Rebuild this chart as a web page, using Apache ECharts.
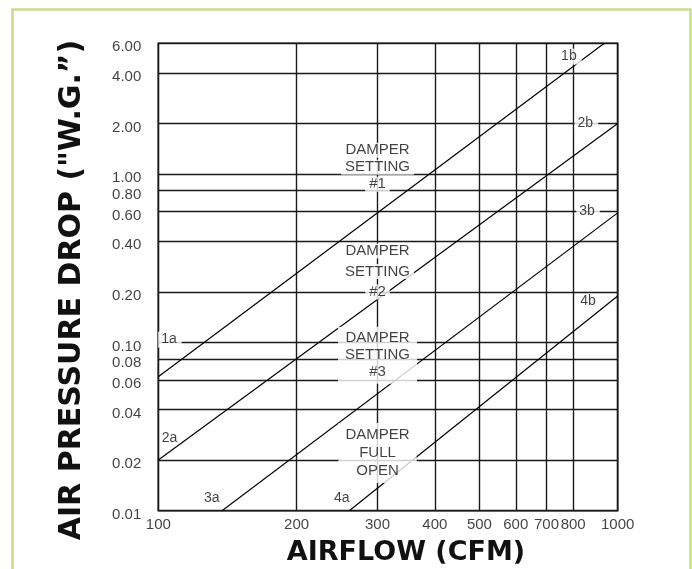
<!DOCTYPE html>
<html>
<head>
<meta charset="utf-8">
<script src="https://cdn.jsdelivr.net/npm/echarts@6/dist/echarts.min.js"></script>
<style>html,body{margin:0;padding:0;background:#fff}#c{width:692px;height:569px}</style>
</head>
<body>
<div id="c"></div>
<script>
// ---- data ----
const flowTicks = [100, 200, 300, 400, 500, 600, 700, 800, 1000];
const flowTickLabels = ['100', '200', '300', '400', '500', '600', '700', '800', '1000'];
const dropTicks = [0.01, 0.02, 0.04, 0.06, 0.08, 0.1, 0.2, 0.4, 0.6, 0.8, 1, 2, 4, 6];
const dropTickLabels = ['0.01', '0.02', '0.04', '0.06', '0.08', '0.10', '0.20', '0.40', '0.60', '0.80', '1.00', '2.00', '4.00', '6.00'];

const setting1Flow = [100, 935];
const setting1Drop = [0.0626, 6];
const setting2Flow = [100, 1000];
const setting2Drop = [0.02, 2.0];
const setting3Flow = [137.6, 1000];
const setting3Drop = [0.01, 0.589];
const fullOpenFlow = [260.4, 1000];
const fullOpenDrop = [0.01, 0.189];

const damperNotes = [['DAMPER', 'SETTING', '#1'], ['DAMPER', 'SETTING', '#2'], ['DAMPER', 'SETTING', '#3'], ['DAMPER', 'FULL', 'OPEN']];
const damperFlow = [300, 300, 300, 300];
const damperDrop = [1.1, 0.264, 0.084, 0.022];

const endNotes = ['1a', '2a', '3a', '4a', '1b', '2b', '3b', '4b'];
const endFlow = [106, 105.8, 130.7, 250.7, 787, 854.5, 862, 862];
const endDrop = [0.104, 0.0269, 0.01185, 0.01185, 5.0, 2.0, 0.6, 0.175];

// ---- chart ----
const FONT = "'Liberation Sans', Arial, sans-serif";
const chart = echarts.init(document.getElementById('c'), null, {renderer: 'canvas'});

function pairs(xs, ys) { return xs.map((x, i) => [x, ys[i]]); }

const curveStyle = {color: '#000', width: 1.2};
function curve(name, xs, ys) {
  return {
    name, type: 'line', data: pairs(xs, ys), showSymbol: false, symbol: 'none',
    lineStyle: curveStyle, itemStyle: {color: '#000'}, z: 3, silent: true, clip: true
  };
}

const gridLines = [];
flowTicks.forEach(v => gridLines.push({xAxis: v}));
dropTicks.forEach(v => gridLines.push({yAxis: v}));

const damperItemStyles = [
  {perLine: true, lh: 17},
  {perLine: true, lh: 20.5},
  {perLine: false, lh: 17},
  {perLine: false, lh: 18}
];

const damperData = damperNotes.map((lines, i) => {
  const st = damperItemStyles[i];
  const lbl = st.perLine ? {
    formatter: lines.map(t => '{b|' + t + '}').join('\n'),
    rich: {b: {backgroundColor: '#fff', padding: [0, 4], lineHeight: st.lh, fontSize: 15, fontFamily: FONT, color: '#111'}}
  } : {
    formatter: lines.join('\n'),
    lineHeight: st.lh,
    backgroundColor: '#fff',
    padding: [2, 7, 4, 7]
  };
  return {value: [damperFlow[i], damperDrop[i]], label: lbl};
});

const endBg = [true, false, false, false, true, true, true, false];
const endData = endNotes.map((t, i) => ({
  value: [endFlow[i], endDrop[i]],
  label: {
    formatter: t,
    backgroundColor: endBg[i] ? '#fff' : 'transparent',
    padding: endBg[i] ? [1, 5, 1, 3] : 0
  }
}));

const option = {
  animation: false,
  backgroundColor: '#fff',
  grid: {left: 158.3, right: 692 - 617.7, top: 43.3, bottom: 569 - 510.7, show: true,
         borderColor: '#000', borderWidth: 1.6, backgroundColor: 'transparent', containLabel: false},
  xAxis: {type: 'log', logBase: 10, min: 100, max: 1000,
          axisLine: {show: false}, axisTick: {show: false}, axisLabel: {show: false},
          splitLine: {show: false}, minorSplitLine: {show: false}},
  yAxis: {type: 'log', logBase: 10, min: 0.01, max: 6,
          axisLine: {show: false}, axisTick: {show: false}, axisLabel: {show: false},
          splitLine: {show: false}, minorSplitLine: {show: false}},
  graphic: [
    {type: 'rect', silent: true, z: 100, shape: {x: 12.5, y: 9.5, width: 678, height: 620},
     style: {fill: 'none', stroke: '#c9dc8f', lineWidth: 2.6}},
    {type: 'text', silent: true, x: 72, y: 290, rotation: Math.PI / 2,
     style: {text: 'AIR PRESSURE DROP ("W.G.\u201D)', font: "bold 30px 'DejaVu Sans', Verdana, sans-serif",
             fill: '#111', align: 'center', verticalAlign: 'middle'}},
    {type: 'text', silent: true, x: 406, y: 553,
     style: {text: 'AIRFLOW (CFM)', font: "bold 27px 'DejaVu Sans', Verdana, sans-serif",
             fill: '#111', align: 'center', verticalAlign: 'middle'}}
  ],
  series: [
    Object.assign(curve('Damper setting #1', setting1Flow, setting1Drop), {
      markLine: {
        silent: true, symbol: ['none', 'none'], z: 2, animation: false,
        label: {show: false},
        lineStyle: {color: '#1a1a1a', width: 1.4, type: 'solid'},
        emphasis: {disabled: true},
        data: gridLines
      }
    }),
    curve('Damper setting #2', setting2Flow, setting2Drop),
    curve('Damper setting #3', setting3Flow, setting3Drop),
    curve('Damper full open', fullOpenFlow, fullOpenDrop),
    {
      name: 'x ticks', type: 'scatter', symbolSize: 0, silent: true, clip: false, z: 5,
      data: flowTicks.map(v => [v, 0.01]),
      label: {show: true, position: 'bottom', distance: 7,
              formatter: p => flowTickLabels[p.dataIndex],
              fontSize: 15, fontFamily: FONT, color: '#111'}
    },
    {
      name: 'y ticks', type: 'scatter', symbolSize: 0, silent: true, clip: false, z: 5,
      data: dropTicks.map(v => [100, v]),
      label: {show: true, position: 'left', distance: 17, offset: [0, 4],
              formatter: p => dropTickLabels[p.dataIndex],
              fontSize: 15, fontFamily: FONT, color: '#111'}
    },
    {
      name: 'damper notes', type: 'scatter', symbolSize: 0, silent: true, clip: false, z: 10,
      data: damperData,
      label: {show: true, position: 'inside', align: 'center', verticalAlign: 'middle',
              fontSize: 15, fontFamily: FONT, color: '#111'}
    },
    {
      name: 'end notes', type: 'scatter', symbolSize: 0, silent: true, clip: false, z: 10,
      data: endData,
      label: {show: true, position: 'inside', align: 'center', verticalAlign: 'middle',
              fontSize: 14, fontFamily: FONT, color: '#111'}
    }
  ]
};
chart.setOption(option);
</script>
</body>
</html>
